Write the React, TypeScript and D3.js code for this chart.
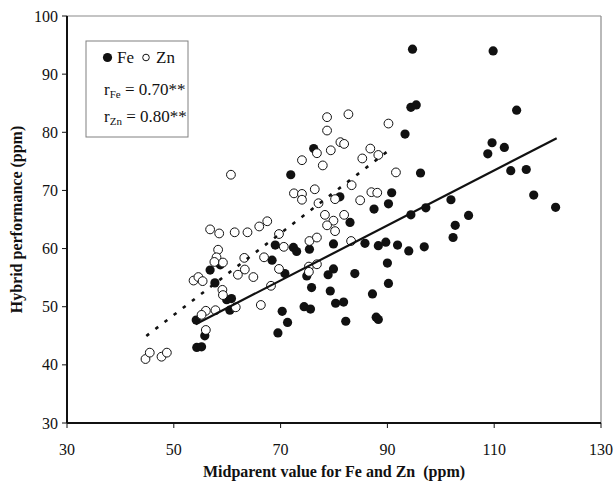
import React from 'react';
import * as d3 from 'd3';

// midparent value (x) and hybrid performance (y)
const feX = [109.8, 114.2, 109.6, 111.9, 108.8, 113.1, 116.0, 117.4, 121.5, 94.7, 94.4, 95.4, 93.3, 96.2, 90.8, 90.2, 87.5, 94.4, 97.2, 101.9, 105.2, 102.7, 102.3, 88.3, 89.7, 91.9, 94.0, 96.9, 90.0, 90.2, 87.2, 87.9, 88.3, 83.0, 69.0, 72.4, 73.0, 75.4, 79.9, 85.8, 68.4, 70.8, 74.9, 79.9, 78.9, 83.9, 75.8, 79.3, 80.3, 81.8, 74.4, 75.6, 70.3, 71.3, 82.2, 69.5, 76.2, 71.9, 81.1, 56.8, 57.7, 58.7, 59.9, 60.8, 60.5, 54.2, 55.8, 54.3, 55.2];
const feY = [94.0, 83.8, 78.2, 77.4, 76.3, 73.4, 73.6, 69.2, 67.1, 94.3, 84.3, 84.7, 79.7, 73.0, 69.6, 67.7, 66.8, 65.8, 67.0, 68.4, 65.7, 64.0, 61.9, 60.5, 61.1, 60.6, 59.6, 60.3, 57.5, 54.0, 52.2, 48.2, 47.8, 64.5, 60.6, 60.2, 59.5, 59.9, 60.8, 60.9, 58.0, 55.7, 55.3, 56.5, 55.5, 55.7, 53.3, 52.7, 50.6, 50.8, 50.0, 49.6, 49.2, 47.3, 47.5, 45.5, 77.2, 72.7, 68.9, 56.3, 54.1, 57.2, 51.2, 51.4, 49.4, 47.7, 45.0, 43.0, 43.1];

const znX = [90.2, 88.3, 91.6, 87.0, 88.1, 77.1, 78.3, 79.9, 81.9, 78.7, 80.2, 66.0, 67.5, 69.7, 70.6, 75.4, 76.8, 83.2, 66.9, 69.7, 75.3, 76.8, 75.3, 68.2, 66.3, 64.9, 78.7, 82.7, 78.7, 76.8, 79.4, 81.2, 81.9, 74.0, 77.9, 86.8, 85.3, 76.4, 72.5, 74.0, 74.0, 83.3, 80.2, 84.9, 60.7, 56.8, 58.5, 61.4, 63.8, 58.3, 58.0, 59.2, 57.6, 63.2, 63.3, 62.0, 53.7, 54.6, 55.4, 59.1, 59.2, 57.8, 56.0, 55.2, 61.6, 56.0, 44.7, 45.5, 47.7, 48.7];
const znY = [81.5, 76.1, 73.1, 69.7, 69.6, 67.8, 65.8, 64.8, 65.8, 64.0, 63.0, 63.8, 64.7, 62.5, 60.3, 61.3, 61.9, 61.3, 58.5, 56.5, 56.9, 57.3, 56.0, 53.6, 50.3, 55.1, 82.6, 83.1, 80.3, 76.4, 76.9, 78.3, 78.0, 75.2, 74.3, 77.2, 75.5, 70.2, 69.5, 69.4, 68.4, 70.9, 68.5, 68.3, 72.7, 63.3, 62.6, 62.8, 62.8, 59.8, 58.5, 57.6, 57.7, 58.4, 56.4, 55.5, 54.5, 55.1, 54.4, 52.9, 52.0, 49.4, 49.3, 48.6, 49.9, 46.0, 41.0, 42.1, 41.4, 42.1];

// fitted lines: [intercept, slope, xStart, xEnd]
const fitFe = [21.41, 0.473, 54.1, 121.7];
const fitZn = [13.43, 0.703, 44.85, 90.9];

const xTicks = [30, 50, 70, 90, 110, 130];
const yTicks = [30, 40, 50, 60, 70, 80, 90, 100];

const serif = "'Liberation Serif', 'Times New Roman', 'DejaVu Serif', serif";

const App = () => {
  const x = d3.scaleLinear().domain([30, 130]).range([67, 601]);
  const y = d3.scaleLinear().domain([30, 100]).range([423, 16]);

  const fitPath = (f: number[]) =>
    d3
      .line<number>()
      .x((v) => x(v))
      .y((v) => y(f[0] + f[1] * v))([f[2], f[3]]);

  const txt = { fontFamily: serif };

  return (
    <svg width={615} height={484} style={{ position: 'absolute', left: 0, top: 0, fontFamily: serif }}>
      <rect width={615} height={484} fill="#fff" />
      {/* frame */}
      <line x1={x(30)} x2={x(130)} y1={y(100)} y2={y(100)} stroke="#8a8a8a" strokeWidth={1.2} />
      <line x1={x(130)} x2={x(130)} y1={y(100)} y2={y(30)} stroke="#8a8a8a" strokeWidth={1.2} />

      {/* points */}
      {feX.map((v, i) => (
        <circle key={'fe' + i} cx={x(v)} cy={y(feY[i])} r={4.6} fill="#111" />
      ))}
      {znX.map((v, i) => (
        <circle key={'zn' + i} cx={x(v)} cy={y(znY[i])} r={4.4} fill="#fff" stroke="#111" strokeWidth={1} />
      ))}

      {/* regression lines */}
      <path d={fitPath(fitFe) || ''} stroke="#111" strokeWidth={2.2} fill="none" />
      <path d={fitPath(fitZn) || ''} stroke="#111" strokeWidth={2.6} strokeDasharray="3.5,8" fill="none" />

      {/* axes */}
      <line x1={x(30)} x2={x(30)} y1={y(100)} y2={y(30)} stroke="#111" strokeWidth={2} />
      <line x1={x(30)} x2={x(130)} y1={y(30)} y2={y(30)} stroke="#111" strokeWidth={2} />
      {yTicks.map((t) => (
        <g key={'yt' + t}>
          <line x1={x(30) - 5} x2={x(30)} y1={y(t)} y2={y(t)} stroke="#111" strokeWidth={1} />
          <text style={txt} x={x(30) - 9} y={y(t)} dy="0.35em" textAnchor="end" fontSize={16} fill="#111">
            {t}
          </text>
        </g>
      ))}
      {xTicks.map((t) => (
        <g key={'xt' + t}>
          <line x1={x(t)} x2={x(t)} y1={y(30)} y2={y(30) + 5} stroke="#111" strokeWidth={1} />
          <text style={txt} x={x(t)} y={455} textAnchor="middle" fontSize={16} fill="#111">
            {t}
          </text>
        </g>
      ))}

      {/* axis titles */}
      <text style={txt} x={334} y={477} textAnchor="middle" fontSize={16} fontWeight="bold" fill="#111">
        Midparent value for Fe and Zn{'\u00a0'} (ppm)
      </text>
      <text
        style={txt}
        transform={`translate(22,${(y(100) + y(30)) / 2}) rotate(-90)`}
        textAnchor="middle"
        fontSize={16}
        fontWeight="bold"
        fill="#111"
      >
        Hybrid performance (ppm)
      </text>

      {/* legend */}
      <rect x={86} y={41} width={102} height={96} fill="#fff" stroke="#808080" strokeWidth={1} />
      <circle cx={107.5} cy={57.5} r={4.6} fill="#111" />
      <text style={txt} x={117} y={63} fontSize={17} fill="#111">Fe</text>
      <circle cx={146} cy={57.5} r={3.3} fill="#fff" stroke="#111" strokeWidth={1} />
      <text style={txt} x={156} y={63} fontSize={17} fill="#111">Zn</text>
      <text style={txt} x={104} y={95} fontSize={17} fill="#111">
        r<tspan fontSize={11} dy={3}>Fe</tspan>
        <tspan dy={-3}> = 0.70**</tspan>
      </text>
      <text style={txt} x={104} y={122} fontSize={17} fill="#111">
        r<tspan fontSize={11} dy={3}>Zn</tspan>
        <tspan dy={-3}> = 0.80**</tspan>
      </text>
    </svg>
  );
};

export default App;
